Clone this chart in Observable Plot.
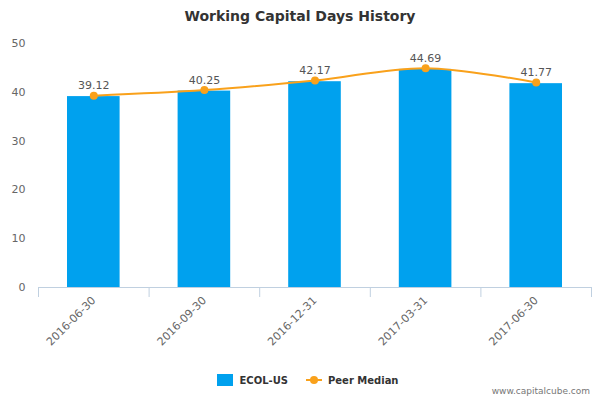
<!DOCTYPE html>
<html><head><meta charset="utf-8">
<script src="https://cdn.jsdelivr.net/npm/d3@7"></script>
<script src="https://cdn.jsdelivr.net/npm/@observablehq/plot@0.6"></script>
<style>
body{margin:0;font-family:"DejaVu Sans",sans-serif;background:#fff;}
#wrap{position:relative;width:600px;height:400px;}
#title{position:absolute;top:8px;left:0;width:600px;text-align:center;font-size:14px;font-weight:bold;color:#333;}
#legend{position:absolute;top:374px;left:8px;width:600px;display:flex;justify-content:center;align-items:center;font-size:10px;font-weight:bold;color:#333;}
.lg{display:flex;align-items:center;margin:0 9px;}
#credit{position:absolute;top:386px;right:10px;font-size:9px;color:#777;}
</style></head>
<body>
<div id="wrap">
<div id="chart"></div>
<div id="title">Working Capital Days History</div>
<div id="legend"></div>
<div id="credit">www.capitalcube.com</div>
</div>
<script>
const dates = ["2016-06-30","2016-09-30","2016-12-31","2017-03-31","2017-06-30"];
const ecol = [39.12, 40.25, 42.17, 44.69, 41.77];
const peer = [39.3, 40.45, 42.4, 44.95, 42.0];
const yTicks = [0,10,20,30,40,50];
const seriesNames = ["ECOL-US","Peer Median"];
const colors = ["#00a1ee","#f9a11b"];

const rows = dates.map((d,i)=>({date:d, i, ecol:ecol[i], peer:peer[i]}));

const chart = Plot.plot({
  width: 600, height: 400,
  marginTop: 43, marginBottom: 113, marginLeft: 38, marginRight: 9,
  style: {fontFamily: "DejaVu Sans, sans-serif", fontSize: "11px", color: "#666", background: "#fff"},
  x: {domain: [0, dates.length]},
  y: {domain: [0, 50]},
  marks: [
    Plot.rectY(rows, {x1: d=>d.i, x2: d=>d.i+1, y: "ecol", fill: colors[0], insetLeft: 29, insetRight: 29}),
    Plot.ruleY([0], {stroke: "#c0d0e0"}),
    Plot.axisY({ticks: yTicks, tickSize: 0, tickPadding: 13, label: null, fill: "#666"}),
    Plot.axisX({ticks: d3.range(dates.length+1), tickFormat: ()=>"", tickSize: 10, stroke: "#c0d0e0", label: null}),
    Plot.axisX({ticks: d3.range(dates.length).map(i=>i+0.5), tickFormat: v=>dates[Math.floor(v)], tickSize: 0, tickPadding: 11, tickRotate: -45, label: null, fill: "#666"}),
    Plot.line(rows, {x: d=>d.i+0.5, y: "peer", stroke: colors[1], strokeWidth: 2, curve: "catmull-rom"}),
    Plot.dot(rows, {x: d=>d.i+0.5, y: "peer", fill: colors[1], r: 4}),
    Plot.text(rows, {x: d=>d.i+0.5, y: "peer", text: d=>d.ecol.toFixed(2), dy: -10, fill: "#555", fontSize: 11})
  ]
});
document.getElementById("chart").appendChild(chart);

const lg = document.getElementById("legend");
lg.innerHTML = `
<div class="lg"><svg width="16" height="12"><rect width="16" height="12" fill="${colors[0]}"/></svg><span style="margin-left:6px">${seriesNames[0]}</span></div>
<div class="lg"><svg width="16" height="12"><line x1="0" x2="16" y1="6" y2="6" stroke="${colors[1]}" stroke-width="2"/><circle cx="8" cy="6" r="4" fill="${colors[1]}"/></svg><span style="margin-left:6px">${seriesNames[1]}</span></div>`;
</script>
</body></html>
